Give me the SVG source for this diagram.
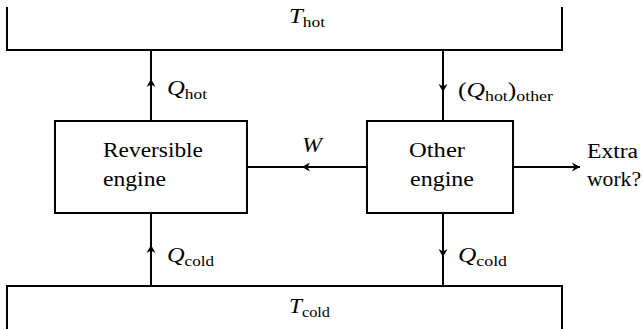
<svg xmlns="http://www.w3.org/2000/svg" width="643" height="329" viewBox="0 0 643 329">
<style>
.ln{fill:none;stroke:#000;stroke-width:2}
.bx{fill:#fff;stroke:#000;stroke-width:2}
text{font-family:"Liberation Serif","Times New Roman",serif;font-size:20px;fill:#000}
.it{font-style:italic}
.sub{font-size:14px}
</style>
<defs>
<marker id="ah" viewBox="-9 -5 10 10" refX="0" refY="0" markerWidth="10" markerHeight="10" markerUnits="userSpaceOnUse" orient="auto">
<path d="M-8,-4.5 L0,0 L-8,4.5 L-5.5,0 Z" fill="#000"/>
</marker>
</defs>
<g id="hot-reservoir">
<path class="ln" d="M7,7 V50 H562 V7"/>
<text x="289" y="23" textLength="36" lengthAdjust="spacingAndGlyphs"><tspan class="it">T</tspan><tspan class="sub" dy="4">hot</tspan></text>
</g>
<g id="cold-reservoir">
<path class="ln" d="M7,329 V286 H562 V329"/>
<text x="289" y="313" textLength="41" lengthAdjust="spacingAndGlyphs"><tspan class="it">T</tspan><tspan class="sub" dy="4">cold</tspan></text>
</g>
<g id="reversible-engine">
<rect class="bx" x="55" y="121" width="192" height="92"/>
<text x="103" y="157" textLength="100" lengthAdjust="spacingAndGlyphs">Reversible</text>
<text x="103" y="186" textLength="63" lengthAdjust="spacingAndGlyphs">engine</text>
</g>
<g id="other-engine">
<rect class="bx" x="367" y="121" width="146" height="92"/>
<text x="409" y="157" textLength="56" lengthAdjust="spacingAndGlyphs">Other</text>
<text x="410" y="186" textLength="64" lengthAdjust="spacingAndGlyphs">engine</text>
</g>
<g id="connectors">
<path class="ln" d="M151,121 L151,79 L151,50" marker-mid="url(#ah)"/>
<path class="ln" d="M443,50 L443,92 L443,121" marker-mid="url(#ah)"/>
<path class="ln" d="M367,167 L302,167 L247,167" marker-mid="url(#ah)"/>
<path class="ln" d="M513,167 L580,167" marker-end="url(#ah)"/>
<path class="ln" d="M151,286 L151,245 L151,213" marker-mid="url(#ah)"/>
<path class="ln" d="M443,213 L443,257 L443,286" marker-mid="url(#ah)"/>
</g>
<g id="labels">
<text x="167" y="95" textLength="40" lengthAdjust="spacingAndGlyphs"><tspan class="it">Q</tspan><tspan class="sub" dy="4">hot</tspan></text>
<text x="458" y="97" textLength="95" lengthAdjust="spacingAndGlyphs">(<tspan class="it">Q</tspan><tspan class="sub" dy="4">hot</tspan><tspan dy="-4">)</tspan><tspan class="sub" dy="4">other</tspan></text>
<text x="302" y="152" class="it" textLength="20" lengthAdjust="spacingAndGlyphs">W</text>
<text x="587" y="158" textLength="51" lengthAdjust="spacingAndGlyphs">Extra</text>
<text x="587" y="186" textLength="54" lengthAdjust="spacingAndGlyphs">work?</text>
<text x="167" y="262" textLength="47" lengthAdjust="spacingAndGlyphs"><tspan class="it">Q</tspan><tspan class="sub" dy="4">cold</tspan></text>
<text x="458" y="262" textLength="49" lengthAdjust="spacingAndGlyphs"><tspan class="it">Q</tspan><tspan class="sub" dy="4">cold</tspan></text>
</g>
</svg>
